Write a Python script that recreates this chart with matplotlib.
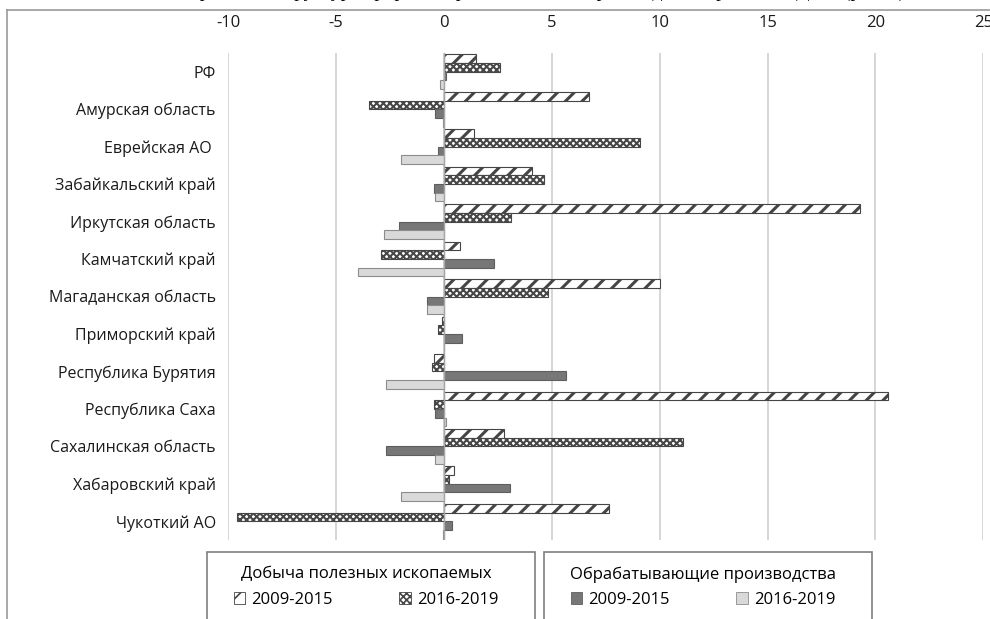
import numpy as np
import matplotlib.pyplot as plt
from matplotlib.patches import Patch, Rectangle
from matplotlib.lines import Line2D

# ==============================
# DATA (прирост, %)
# ==============================

regions = ["РФ", "Амурская область", "Еврейская АО ", "Забайкальский край",
           "Иркутская область", "Камчатский край", "Магаданская область",
           "Приморский край", "Республика Бурятия", "Республика Саха",
           "Сахалинская область", "Хабаровский край", "Чукоткий АО"]

mining_0915 = [1.5, 6.7, 1.4, 4.1, 19.3, 0.75, 10.0, -0.1, -0.45, 20.6, 2.8, 0.45, 7.65]
mining_1619 = [2.6, -3.5, 9.1, 4.65, 3.1, -2.9, 4.8, -0.3, -0.55, -0.45, 11.1, 0.25, -9.6]
manuf_0915 = [0.1, -0.4, -0.3, -0.45, -2.1, 2.3, -0.8, 0.85, 5.65, -0.4, -2.7, 3.05, 0.35]
manuf_1619 = [-0.2, -0.07, -2.0, -0.4, -2.8, -4.0, -0.8, 0.0, -2.7, 0.1, -0.4, -2.0, -0.07]

ticks = [-10, -5, 0, 5, 10, 15, 20, 25]

# ==============================
# STYLE
# ==============================

plt.rcParams['font.family'] = ['Open Sans', 'DejaVu Sans']
plt.rcParams['hatch.linewidth'] = 1.2

fig = plt.figure(figsize=(9.9, 6.19), dpi=100)
ax = fig.add_axes([228.3/990, 1 - 540/619, 755/990, 487/619])

y = np.arange(len(regions))
h = 0.232

styles = [
    dict(facecolor='white', edgecolor='#454545', hatch='//'),
    dict(facecolor='white', edgecolor='#474747', hatch='xxxxx'),
    dict(facecolor='#777777', edgecolor='#5e5e5e'),
    dict(facecolor='#d9d9d9', edgecolor='#8c8c8c'),
]
hatch_lw = [2.2, 1.5, 1.0, 1.0]
series = [mining_0915, mining_1619, manuf_0915, manuf_1619]


def set_hlw(p, lw):
    if hasattr(p, 'set_hatch_linewidth'):
        p.set_hatch_linewidth(lw)


for i, vals in enumerate(series):
    bars = ax.barh(y + (i - 1.5) * h, vals, height=h, linewidth=0.8, zorder=3, **styles[i])
    for b in bars:
        set_hlw(b, hatch_lw[i])

ax.set_xlim(-10, 25)
ax.set_ylim(len(regions) - 0.5, -0.5)
ax.set_xticks(ticks)
ax.set_xticklabels([str(t) for t in ticks], fontsize=12, color='#1a1a1a')
ax.xaxis.tick_top()
ax.tick_params(axis='x', length=0, pad=15.5)
ax.set_yticks(y)
ax.set_yticklabels(regions, fontsize=11.5, color='#1a1a1a')
ax.tick_params(axis='y', length=0, pad=9)
ax.grid(axis='x', color='#d0d0d0', linewidth=1.2, zorder=0)
ax.axvline(0, color='#a6a6a6', linewidth=1.0, zorder=4)
for s in ax.spines.values():
    s.set_visible(False)

# chart frame (cut by the page)
fig.add_artist(Line2D([7/990, 7/990], [0, 1 - 10/619], transform=fig.transFigure,
                      color='#9a9a9a', linewidth=1.2))
fig.add_artist(Line2D([7/990, 1], [1 - 10/619, 1 - 10/619], transform=fig.transFigure,
                      color='#9a9a9a', linewidth=1.2))

# cropped text line of the page above the chart
fig.text(905/990, 1 + 3/619,
         "Отраслевая структура прироста промышленного производства в регионах ДФО (рис. 3)",
         ha='right', va='baseline', fontsize=14, family='Liberation Serif')

# ==============================
# LEGENDS
# ==============================

labels = ["2009-2015", "2016-2019"]
legends = [("Добыча полезных ископаемых", styles[0:2], hatch_lw[0:2], 207, 535),
           ("Обрабатывающие производства", styles[2:4], hatch_lw[2:4], 544, 872)]

for title, sts, hl, x0, x1 in legends:
    fig.add_artist(Rectangle((x0/990, -0.05), (x1 - x0)/990, 0.05 + 1 - 552/619,
                             transform=fig.transFigure, facecolor='white',
                             edgecolor='#7f7f7f', linewidth=1.2))
    hs = []
    for st, lw in zip(sts, hl):
        p = Patch(linewidth=0.6, **st)
        set_hlw(p, lw)
        hs.append(p)
    leg = fig.legend(hs, labels, title=title, ncol=2, loc='upper center',
                     bbox_to_anchor=((x0 + x1) / 2 / 990 - 5/990, 1 - 553/619),
                     frameon=False, fontsize=12, title_fontsize=12,
                     handlelength=0.7, handleheight=0.7, handletextpad=0.35,
                     columnspacing=4.0, borderpad=0.3, labelspacing=0.55)

fig.savefig("out.png", dpi=100)
